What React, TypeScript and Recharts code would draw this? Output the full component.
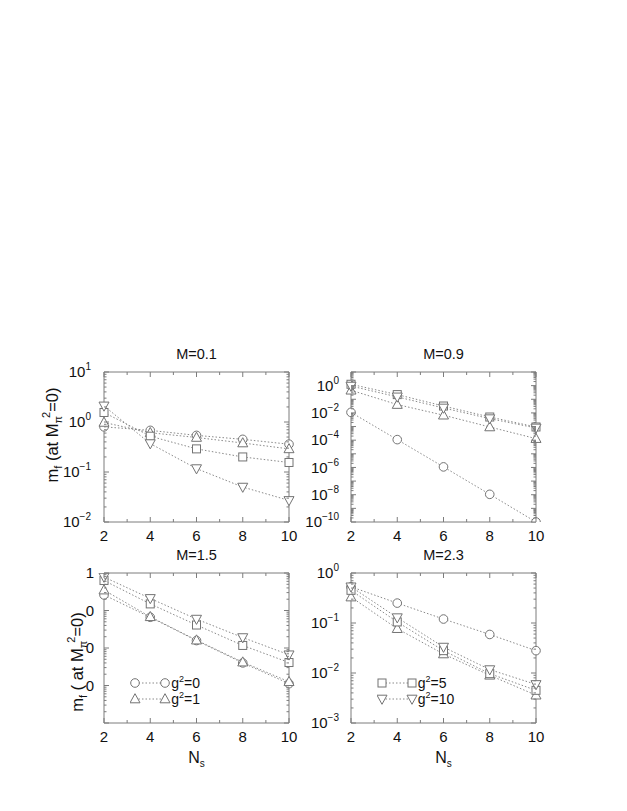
import React from 'react';
import { LineChart, Line, XAxis, YAxis, Legend, Label } from 'recharts';

const ns = [2, 4, 6, 8, 10];
const xTicks = [2, 3, 4, 5, 6, 7, 8, 9, 10];
const seriesKeys = ['g0', 'g1', 'g5', 'g10'];
const couplings = ['0', '1', '5', '10'];
const shapes = ['circle', 'up', 'square', 'down'];
const titles = ['M=0.1', 'M=0.9', 'M=1.5', 'M=2.3'];

// M=0.1
const m01 = {
  g0: [0.8, 0.68, 0.54, 0.45, 0.36],
  g1: [0.98, 0.61, 0.49, 0.38, 0.29],
  g5: [1.55, 0.52, 0.29, 0.2, 0.155],
  g10: [2.1, 0.37, 0.117, 0.05, 0.027],
};
// M=0.9
const m09 = {
  g0: [1.1e-2, 1.1e-4, 1.1e-6, 1.07e-8, 1e-10],
  g1: [0.46, 4.1e-2, 6.8e-3, 9.3e-4, 1.3e-4],
  g5: [1.26, 0.22, 3.2e-2, 5.0e-3, 9.3e-4],
  g10: [0.93, 0.15, 2.3e-2, 3.8e-3, 7.9e-4],
};
// M=1.5
const m15 = {
  g0: [0.26, 6.6e-2, 1.58e-2, 4.0e-3, 1.12e-3],
  g1: [0.35, 6.8e-2, 1.62e-2, 4.2e-3, 1.26e-3],
  g5: [0.63, 0.15, 4.1e-2, 1.17e-2, 4.1e-3],
  g10: [0.78, 0.21, 5.9e-2, 1.9e-2, 6.6e-3],
};
// M=2.3
const m23 = {
  g0: [0.53, 0.25, 0.12, 0.059, 0.028],
  g1: [0.33, 0.077, 0.024, 0.009, 0.0036],
  g5: [0.45, 0.105, 0.028, 0.0097, 0.0045],
  g10: [0.53, 0.128, 0.033, 0.0117, 0.0059],
};

// decades on the y axes and their labels [base, exponent]
const yExp01 = [-2, -1, 0, 1];
const yText01 = [['10', '-2'], ['10', '-1'], ['10', '0'], ['10', '1']];
const yExp09 = [-10, -9, -8, -7, -6, -5, -4, -3, -2, -1, 0, 1];
const yText09 = [['10', '-10'], ['', ''], ['10', '-8'], ['', ''], ['10', '-6'], ['', ''], ['10', '-4'], ['', ''], ['10', '-2'], ['', ''], ['10', '0'], ['', '']];
const yExp15 = [-4, -3, -2, -1, 0];
const yText15 = [['', ''], ['0', ''], ['0', ''], ['0', ''], ['1', '']];
const yExp23 = [-3, -2, -1, 0];
const yText23 = [['10', '-3'], ['10', '-2'], ['10', '-1'], ['10', '0']];

const FONT = '"Liberation Sans", Arial, Helvetica, sans-serif';
const AXIS = '#7c7c7c';
const LINE = '#8a8a8a';
const MARK = '#737373';
const TEXT = '#111';

const PW = 185;
const PH = 150;
const ML = 80;
const MT = 25;
const MR = 10;
const XH = 50;

const toRows = (s: Record<string, number[]>) =>
  ns.map((n, i) => {
    const r: Record<string, number> = { n };
    seriesKeys.forEach((k) => (r[k] = s[k][i]));
    return r;
  });

const logTicks = (exps: number[]) => {
  const t: number[] = [];
  exps.forEach((e, i) => {
    t.push(Math.pow(10, e));
    if (i < exps.length - 1) for (let m = 2; m <= 9; m++) t.push(m * Math.pow(10, e));
  });
  return t;
};

const decadeOf = (v: number) => {
  const l = Math.log10(v);
  return Math.abs(l - Math.round(l)) < 1e-6 ? Math.round(l) : null;
};

const Marker = ({ cx, cy, shape }: { cx?: number; cy?: number; shape: string }) => {
  if (cx == null || cy == null) return null;
  const p = { fill: '#fff', stroke: MARK, strokeWidth: 1 };
  if (shape === 'circle') return <circle cx={cx} cy={cy} r={4.3} {...p} />;
  if (shape === 'square') return <rect x={cx - 4} y={cy - 4} width={8} height={8} {...p} />;
  if (shape === 'up')
    return <polygon points={`${cx},${cy - 5.3} ${cx - 5},${cy + 3.8} ${cx + 5},${cy + 3.8}`} {...p} />;
  return <polygon points={`${cx},${cy + 5.3} ${cx - 5},${cy - 3.8} ${cx + 5},${cy - 3.8}`} {...p} />;
};

const YTick = (props: any) => {
  const { x, y, payload, side, exps, texts, gap } = props;
  const d = decadeOf(payload.value);
  const len = d != null ? 5 : 2.5;
  const dir = side === 'left' ? 1 : -1;
  const idx = d != null ? exps.indexOf(d) : -1;
  const txt = side === 'left' && idx >= 0 ? texts[idx] : null;
  return (
    <g>
      <line x1={x} x2={x + dir * len} y1={y} y2={y} stroke={AXIS} strokeWidth={1} />
      {txt && (txt[0] || txt[1]) && (
        <text x={x - gap} y={y + 5.3} textAnchor="end" fontFamily={FONT} fontSize={15} fill={TEXT}>
          {txt[0]}
          {txt[1] && (
            <tspan dy={-7} fontSize={10}>
              {txt[1].replace('-', '\u2212')}
            </tspan>
          )}
        </text>
      )}
    </g>
  );
};

const XTick = (props: any) => {
  const { x, y, payload, side } = props;
  const major = payload.value % 2 === 0;
  const len = major ? 5 : 3;
  const dir = side === 'bottom' ? -1 : 1;
  return (
    <g>
      <line x1={x} x2={x} y1={y} y2={y + dir * len} stroke={AXIS} strokeWidth={1} />
      {side === 'bottom' && major && (
        <text x={x} y={y + 18.5} textAnchor="middle" fontFamily={FONT} fontSize={15} fill={TEXT}>
          {payload.value}
        </text>
      )}
    </g>
  );
};

const YTitle = ({ bx, cy, prefix }: { bx: number; cy: number; prefix: string }) => (
  <text
    x={bx}
    y={cy}
    transform={`rotate(-90, ${bx}, ${cy})`}
    textAnchor="middle"
    fontFamily={FONT}
    fontSize={16.5}
    fill={TEXT}
  >
    m
    <tspan dy={4} fontSize={11}>f</tspan>
    <tspan dy={-4}>{` ${prefix}`}</tspan>
    <tspan dy={4} fontSize={11}>π</tspan>
    <tspan dx={-2} dy={-12} fontSize={11}>2</tspan>
    <tspan dy={8}>=0)</tspan>
  </text>
);

const LegendBox = ({ keys }: { keys: number[] }) => (
  <div style={{ fontFamily: FONT, fontSize: 14, color: TEXT }}>
    {keys.map((k) => (
      <div key={k} style={{ display: 'flex', alignItems: 'center', height: 16 }}>
        <svg width={41} height={16} style={{ display: 'block' }}>
          <line x1={5} x2={35} y1={8} y2={8} stroke={LINE} strokeDasharray="1.5 2" />
          <Marker cx={5} cy={8} shape={shapes[k]} />
          <Marker cx={35} cy={8} shape={shapes[k]} />
        </svg>
        <span style={{ whiteSpace: 'nowrap' }}>
          g<span style={{ fontSize: 9, position: 'relative', top: -6 }}>2</span>={couplings[k]}
        </span>
      </div>
    ))}
  </div>
);

type PanelProps = {
  left: number;
  top: number;
  title: string;
  data: Record<string, number[]>;
  exps: number[];
  texts: string[][];
  gap?: number;
  xTitle?: boolean;
  yTitle?: { bx: number; cy: number; prefix: string };
  legendKeys?: number[];
};

const Panel = ({ left, top, title, data, exps, texts, gap = 12, xTitle, yTitle, legendKeys }: PanelProps) => {
  const rows = toRows(data);
  const domain = [Math.pow(10, exps[0]), Math.pow(10, exps[exps.length - 1])];
  const ticks = logTicks(exps);
  return (
    <div style={{ position: 'absolute', left, top }}>
      <LineChart
        width={ML + PW + MR}
        height={MT + PH + XH}
        data={rows}
        margin={{ top: MT - 1, right: MR - 1, bottom: 0, left: 0 }}
      >
        <XAxis
          dataKey="n"
          type="number"
          domain={[2, 10]}
          ticks={xTicks}
          interval={0}
          height={XH}
          tickSize={0}
          tickMargin={0}
          stroke={AXIS}
          tick={(p: any) => <XTick {...p} side="bottom" />}
        >
          {xTitle && (
            <Label
              content={() => (
                <text x={ML + PW / 2} y={MT + PH + 39.5} textAnchor="middle" fontFamily={FONT} fontSize={16} fill={TEXT}>
                  N
                  <tspan dy={4} fontSize={10}>s</tspan>
                </text>
              )}
            />
          )}
        </XAxis>
        <XAxis
          xAxisId="top"
          dataKey="n"
          type="number"
          orientation="top"
          domain={[2, 10]}
          ticks={xTicks}
          interval={0}
          height={1}
          tickSize={0}
          tickMargin={0}
          stroke={AXIS}
          tick={(p: any) => <XTick {...p} side="top" />}
        >
          <Label
            content={() => (
              <text x={ML + PW / 2} y={MT - 13} textAnchor="middle" fontFamily={FONT} fontSize={14.5} fill={TEXT}>
                {title}
              </text>
            )}
          />
        </XAxis>
        <YAxis
          type="number"
          scale="log"
          domain={domain}
          allowDataOverflow
          ticks={ticks}
          interval={0}
          width={ML}
          tickSize={0}
          tickMargin={0}
          stroke={AXIS}
          tick={(p: any) => <YTick {...p} side="left" exps={exps} texts={texts} gap={gap} />}
        >
          {yTitle && <Label content={() => <YTitle {...yTitle} />} />}
        </YAxis>
        <YAxis
          yAxisId="right"
          orientation="right"
          type="number"
          scale="log"
          domain={domain}
          allowDataOverflow
          ticks={ticks}
          interval={0}
          width={1}
          tickSize={0}
          tickMargin={0}
          stroke={AXIS}
          tick={(p: any) => <YTick {...p} side="right" exps={exps} texts={texts} gap={gap} />}
        />
        {seriesKeys.map((k, i) => (
          <Line
            key={k}
            dataKey={k}
            xAxisId={i === seriesKeys.length - 1 ? 'top' : 0}
            yAxisId={i === seriesKeys.length - 1 ? 'right' : 0}
            stroke={LINE}
            strokeWidth={1}
            strokeDasharray="1.5 2"
            isAnimationActive={false}
            dot={(p: any) => <Marker key={`${k}-${p.index}`} cx={p.cx} cy={p.cy} shape={shapes[i]} />}
            activeDot={false}
          />
        ))}
        {legendKeys && (
          <Legend
            layout="vertical"
            align="center"
            verticalAlign="middle"
            wrapperStyle={{ left: ML + 26, top: MT + 102, width: 'auto', height: 'auto' }}
            content={() => <LegendBox keys={legendKeys} />}
          />
        )}
      </LineChart>
    </div>
  );
};

export default function App() {
  return (
    <div style={{ position: 'absolute', left: 0, top: 0, width: 627, height: 811, background: '#fff' }}>
      <Panel
        left={104.3 - ML}
        top={371.7 - MT}
        title={titles[0]}
        data={m01}
        exps={yExp01}
        texts={yText01}
        gap={13}
        yTitle={{ bx: 34, cy: 88, prefix: '(at M' }}
      />
      <Panel left={350.7 - ML} top={371.7 - MT} title={titles[1]} data={m09} exps={yExp09} texts={yText09} />
      <Panel
        left={104.3 - ML}
        top={572.7 - MT}
        title={titles[2]}
        data={m15}
        exps={yExp15}
        texts={yText15}
        gap={10}
        xTitle
        yTitle={{ bx: 59, cy: 114, prefix: '( at M' }}
        legendKeys={[0, 1]}
      />
      <Panel
        left={350.7 - ML}
        top={572.7 - MT}
        title={titles[3]}
        data={m23}
        exps={yExp23}
        texts={yText23}
        xTitle
        legendKeys={[2, 3]}
      />
    </div>
  );
}
